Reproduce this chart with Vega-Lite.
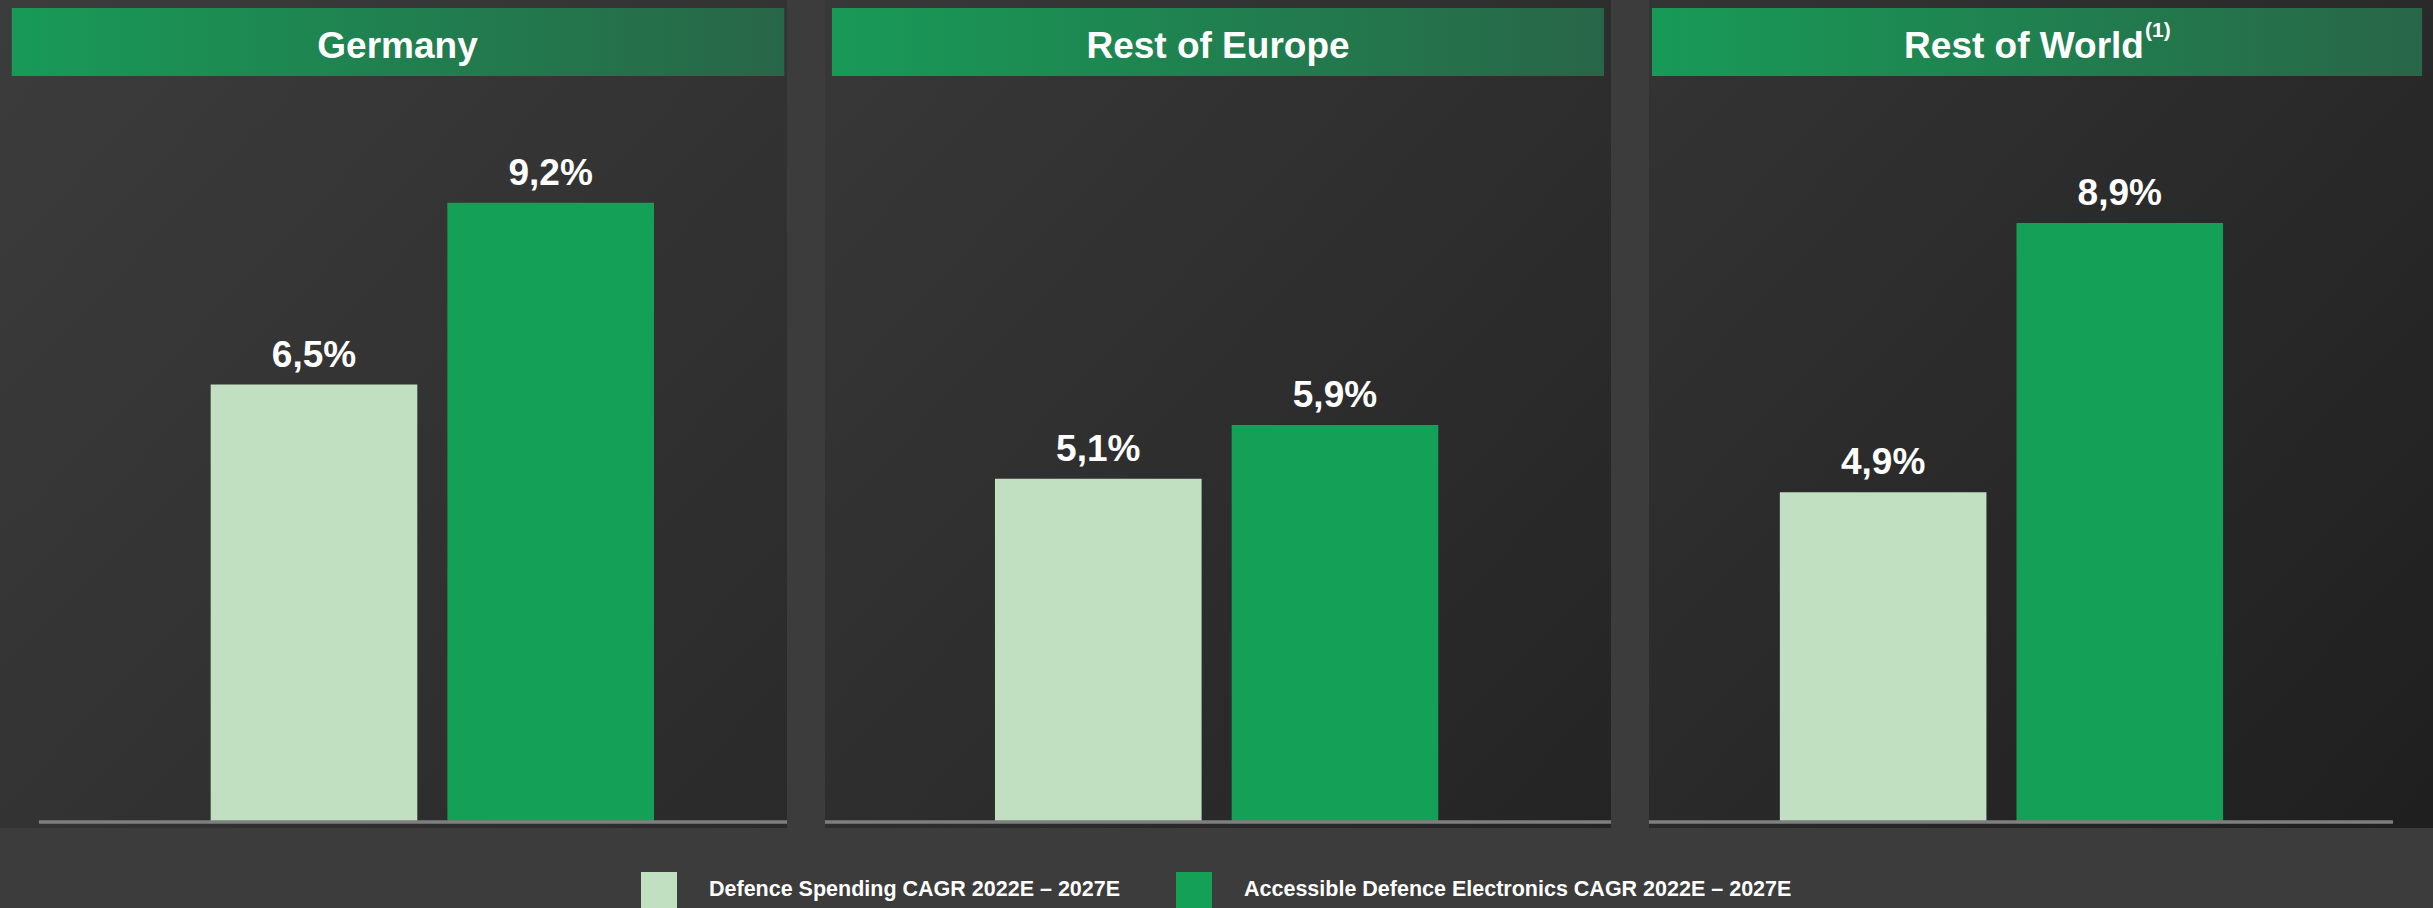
{
  "$schema": "https://vega.github.io/schema/vega-lite/v6.json",
  "background": "#3c3c3c",
  "padding": 0,
  "spacing": 38,
  "bounds": "flush",
  "data": {
    "values": [
      {"region": "Germany", "header": "Germany", "note": "", "series": "Defence Spending CAGR 2022E – 2027E", "value": 6.5, "label": "6,5%"},
      {"region": "Germany", "header": "Germany", "note": "", "series": "Accessible Defence Electronics CAGR 2022E – 2027E", "value": 9.2, "label": "9,2%"},
      {"region": "Rest of Europe", "header": "Rest of Europe", "note": "", "series": "Defence Spending CAGR 2022E – 2027E", "value": 5.1, "label": "5,1%"},
      {"region": "Rest of Europe", "header": "Rest of Europe", "note": "", "series": "Accessible Defence Electronics CAGR 2022E – 2027E", "value": 5.9, "label": "5,9%"},
      {"region": "Rest of World", "header": "Rest of World", "note": "(1)", "series": "Defence Spending CAGR 2022E – 2027E", "value": 4.9, "label": "4,9%"},
      {"region": "Rest of World", "header": "Rest of World", "note": "(1)", "series": "Accessible Defence Electronics CAGR 2022E – 2027E", "value": 8.9, "label": "8,9%"}
    ]
  },
  "hconcat": [
    {
      "width": 787,
      "height": 828,
      "transform": [{"filter": "datum.region === 'Germany'"}],
      "layer": [
        {"mark": {"type": "rect", "fill": {"gradient": "linear", "x1": 0, "y1": 0, "x2": 1, "y2": 1, "stops": [{"offset": 0, "color": "#3c3c3c"}, {"offset": 1, "color": "#2a2a2a"}]}},
         "encoding": {"y": {"datum": 12.214, "type": "quantitative", "axis": null}, "y2": {"datum": -0.0892}}},
        {"mark": {"type": "bar"},
         "encoding": {
           "x": {"field": "series", "type": "nominal", "axis": null, "scale": {"domain": ["Defence Spending CAGR 2022E – 2027E", "Accessible Defence Electronics CAGR 2022E – 2027E"], "paddingInner": 0.127, "paddingOuter": 0.726, "align": 0.613}},
           "y": {"field": "value", "type": "quantitative", "axis": null, "scale": {"domain": [-0.0892, 12.214], "nice": false, "zero": false}},
           "color": {"field": "series", "type": "nominal", "scale": {"domain": ["Defence Spending CAGR 2022E – 2027E", "Accessible Defence Electronics CAGR 2022E – 2027E"], "range": ["#c1dfc1", "#14a157"]}, "legend": {"title": null}}
         }},
        {"mark": {"type": "rect", "fill": {"gradient": "linear", "x1": 0, "y1": 0, "x2": 1, "y2": 0, "stops": [{"offset": 0, "color": "#189a57"}, {"offset": 1, "color": "#286648"}]}},
         "encoding": {
           "x": {"datum": "Defence Spending CAGR 2022E – 2027E", "type": "nominal", "bandPosition": -0.962, "axis": null},
           "x2": {"datum": "Accessible Defence Electronics CAGR 2022E – 2027E", "bandPosition": 1.63},
           "y": {"datum": 12.095, "type": "quantitative", "axis": null}, "y2": {"datum": 11.085}}},
        {"transform": [{"filter": "datum.series === 'Defence Spending CAGR 2022E – 2027E'"}],
         "mark": {"type": "text", "color": "#ffffff", "fontSize": 37, "fontWeight": "bold", "align": "center", "baseline": "alphabetic", "dx": 4},
         "encoding": {"text": {"field": "header"}, "y": {"datum": 11.35, "type": "quantitative", "axis": null}}},
        {"mark": {"type": "rule", "color": "#7f7f7f", "strokeWidth": 3},
         "encoding": {
           "x": {"datum": "Defence Spending CAGR 2022E – 2027E", "type": "nominal", "bandPosition": -0.831, "axis": null},
           "x2": {"value": "width"},
           "y": {"datum": 0, "type": "quantitative", "axis": null}
         }},
        {"mark": {"type": "text", "color": "#ffffff", "fontSize": 37, "fontWeight": "bold", "align": "center", "baseline": "alphabetic", "dy": -18},
         "encoding": {
           "x": {"field": "series", "type": "nominal", "axis": null},
           "y": {"field": "value", "type": "quantitative", "axis": null},
           "text": {"field": "label"}
         }}
      ]
    },
    {
      "width": 786,
      "height": 828,
      "transform": [{"filter": "datum.region === 'Rest of Europe'"}],
      "layer": [
        {"mark": {"type": "rect", "fill": {"gradient": "linear", "x1": 0, "y1": 0, "x2": 1, "y2": 1, "stops": [{"offset": 0, "color": "#383838"}, {"offset": 1, "color": "#242424"}]}},
         "encoding": {"y": {"datum": 12.214, "type": "quantitative", "axis": null}, "y2": {"datum": -0.0892}}},
        {"mark": {"type": "bar"},
         "encoding": {
           "x": {"field": "series", "type": "nominal", "axis": null, "scale": {"domain": ["Defence Spending CAGR 2022E – 2027E", "Accessible Defence Electronics CAGR 2022E – 2027E"], "paddingInner": 0.127, "paddingOuter": 0.724, "align": 0.496}},
           "y": {"field": "value", "type": "quantitative", "axis": null, "scale": {"domain": [-0.0892, 12.214], "nice": false, "zero": false}},
           "color": {"field": "series", "type": "nominal", "scale": {"domain": ["Defence Spending CAGR 2022E – 2027E", "Accessible Defence Electronics CAGR 2022E – 2027E"], "range": ["#c1dfc1", "#14a157"]}, "legend": {"title": null}}
         }},
        {"mark": {"type": "rect", "fill": {"gradient": "linear", "x1": 0, "y1": 0, "x2": 1, "y2": 0, "stops": [{"offset": 0, "color": "#189a57"}, {"offset": 1, "color": "#286648"}]}},
         "encoding": {
           "x": {"datum": "Defence Spending CAGR 2022E – 2027E", "type": "nominal", "bandPosition": -0.789, "axis": null},
           "x2": {"datum": "Accessible Defence Electronics CAGR 2022E – 2027E", "bandPosition": 1.802},
           "y": {"datum": 12.095, "type": "quantitative", "axis": null}, "y2": {"datum": 11.085}}},
        {"transform": [{"filter": "datum.series === 'Defence Spending CAGR 2022E – 2027E'"}],
         "mark": {"type": "text", "color": "#ffffff", "fontSize": 37, "fontWeight": "bold", "align": "center", "baseline": "alphabetic"},
         "encoding": {"text": {"field": "header"}, "y": {"datum": 11.35, "type": "quantitative", "axis": null}}},
        {"mark": {"type": "rule", "color": "#7f7f7f", "strokeWidth": 3},
         "encoding": {"y": {"datum": 0, "type": "quantitative", "axis": null}}},
        {"mark": {"type": "text", "color": "#ffffff", "fontSize": 37, "fontWeight": "bold", "align": "center", "baseline": "alphabetic", "dy": -18},
         "encoding": {
           "x": {"field": "series", "type": "nominal", "axis": null},
           "y": {"field": "value", "type": "quantitative", "axis": null},
           "text": {"field": "label"}
         }}
      ]
    },
    {
      "width": 784,
      "height": 828,
      "transform": [{"filter": "datum.region === 'Rest of World'"}],
      "layer": [
        {"mark": {"type": "rect", "fill": {"gradient": "linear", "x1": 0, "y1": 0, "x2": 1, "y2": 1, "stops": [{"offset": 0, "color": "#343434"}, {"offset": 1, "color": "#1f1f1f"}]}},
         "encoding": {"y": {"datum": 12.214, "type": "quantitative", "axis": null}, "y2": {"datum": -0.0892}}},
        {"mark": {"type": "bar"},
         "encoding": {
           "x": {"field": "series", "type": "nominal", "axis": null, "scale": {"domain": ["Defence Spending CAGR 2022E – 2027E", "Accessible Defence Electronics CAGR 2022E – 2027E"], "paddingInner": 0.127, "paddingOuter": 0.72, "align": 0.384}},
           "y": {"field": "value", "type": "quantitative", "axis": null, "scale": {"domain": [-0.0892, 12.214], "nice": false, "zero": false}},
           "color": {"field": "series", "type": "nominal", "scale": {"domain": ["Defence Spending CAGR 2022E – 2027E", "Accessible Defence Electronics CAGR 2022E – 2027E"], "range": ["#c1dfc1", "#14a157"]}, "legend": {"title": null}}
         }},
        {"mark": {"type": "rect", "fill": {"gradient": "linear", "x1": 0, "y1": 0, "x2": 1, "y2": 0, "stops": [{"offset": 0, "color": "#189a57"}, {"offset": 1, "color": "#286648"}]}},
         "encoding": {
           "x": {"datum": "Defence Spending CAGR 2022E – 2027E", "type": "nominal", "bandPosition": -0.619, "axis": null},
           "x2": {"datum": "Accessible Defence Electronics CAGR 2022E – 2027E", "bandPosition": 1.963},
           "y": {"datum": 12.095, "type": "quantitative", "axis": null}, "y2": {"datum": 11.085}}},
        {"transform": [{"filter": "datum.series === 'Defence Spending CAGR 2022E – 2027E'"}],
         "mark": {"type": "text", "color": "#ffffff", "fontSize": 37, "fontWeight": "bold", "align": "center", "baseline": "alphabetic", "dx": -17},
         "encoding": {"text": {"field": "header"}, "y": {"datum": 11.35, "type": "quantitative", "axis": null}}},
        {"transform": [{"filter": "datum.series === 'Defence Spending CAGR 2022E – 2027E'"}],
         "mark": {"type": "text", "color": "#ffffff", "fontSize": 21, "fontWeight": "bold", "align": "left", "baseline": "alphabetic", "dx": 104, "dy": -21},
         "encoding": {"text": {"field": "note"}, "y": {"datum": 11.35, "type": "quantitative", "axis": null}}},
        {"mark": {"type": "rule", "color": "#7f7f7f", "strokeWidth": 3},
         "encoding": {
           "x": {"datum": "Accessible Defence Electronics CAGR 2022E – 2027E", "type": "nominal", "bandPosition": 1.822, "axis": null},
           "x2": {"value": 0},
           "y": {"datum": 0, "type": "quantitative", "axis": null}
         }},
        {"mark": {"type": "text", "color": "#ffffff", "fontSize": 37, "fontWeight": "bold", "align": "center", "baseline": "alphabetic", "dy": -18},
         "encoding": {
           "x": {"field": "series", "type": "nominal", "axis": null},
           "y": {"field": "value", "type": "quantitative", "axis": null},
           "text": {"field": "label"}
         }}
      ]
    }
  ],
  "resolve": {"scale": {"x": "independent", "y": "independent", "color": "shared"}},
  "config": {
    "font": "Liberation Sans",
    "view": {"stroke": null},
    "legend": {
      "orient": "bottom",
      "direction": "horizontal",
      "layout": {"bottom": {"anchor": "middle"}},
      "symbolType": "square",
      "symbolSize": 1296,
      "symbolStrokeWidth": 0,
      "symbolOpacity": 1,
      "labelFont": "Liberation Sans",
      "labelFontSize": 21.5,
      "labelFontWeight": "bold",
      "labelColor": "#ffffff",
      "labelLimit": 2000,
      "labelOffset": 32,
      "columnPadding": 55,
      "offset": 44,
      "padding": 0
    }
  }
}
